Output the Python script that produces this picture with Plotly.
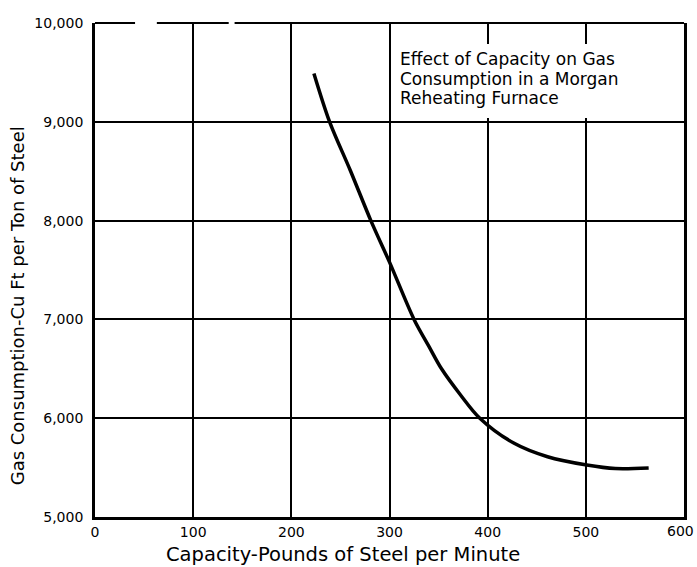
import plotly.graph_objects as go

# Capacity (lb of steel per minute) and gas consumption (cu ft per ton of steel)
capacity = [223, 239, 260, 281, 300, 325, 340, 353, 372, 392, 427, 461, 501, 530, 564]
gas_consumption = [9490, 9000, 8510, 8000, 7580, 7000, 6730, 6500, 6240, 6000, 5746, 5610, 5526, 5490, 5496]

x_ticks = [0, 100, 200, 300, 400, 500]
x_last_tick = 600
y_ticks = [5000, 6000, 7000, 8000, 9000, 10000]
y_tick_text = ["5,000", "6,000", "7,000", "8,000", "9,000", "10,000"]

title_lines = ["Effect of Capacity on Gas", "Consumption in a Morgan", "Reheating Furnace"]
title_line_y = [9636, 9438, 9241]
x_title = "Capacity-Pounds of Steel per Minute"
y_title = "Gas Consumption-Cu Ft per Ton of Steel"

FONT = "DejaVu Sans"

fig = go.Figure()
fig.add_trace(go.Scatter(
    x=capacity, y=gas_consumption, mode="lines",
    line=dict(color="black", width=3.5, shape="spline", smoothing=0.9),
    showlegend=False, hoverinfo="skip",
))

annotations = [
    dict(text=line, xref="x", yref="y", x=309, y=yv,
         xanchor="left", yanchor="middle", align="left", showarrow=False,
         font=dict(size=17, family=FONT))
    for line, yv in zip(title_lines, title_line_y)
]
annotations += [
    # right-most x tick label, kept inside the page edge
    dict(text=str(x_last_tick), xref="x", yref="paper", x=x_last_tick, y=0,
         xanchor="center", yanchor="top", yshift=-4, xshift=-4, showarrow=False,
         font=dict(size=14, family=FONT)),
    dict(text=x_title, xref="paper", yref="paper", x=0.421, y=-0.076,
         xanchor="center", yanchor="middle", showarrow=False,
         font=dict(size=19.5, family=FONT)),
    dict(text=y_title, xref="paper", yref="paper", x=-0.132, y=0.427,
         xanchor="center", yanchor="middle", textangle=-90, showarrow=False,
         font=dict(size=18, family=FONT)),
]

fig.update_layout(
    width=697, height=567,
    margin=dict(l=95, r=10, t=23, b=50),
    paper_bgcolor="white", plot_bgcolor="white",
    font=dict(family=FONT, color="black"),
    xaxis=dict(
        range=[0, 600], tickvals=x_ticks, ticks="",
        showgrid=True, gridcolor="black", gridwidth=1.6,
        showline=True, linecolor="black", linewidth=2.5, mirror=False,
        zeroline=False, tickfont=dict(size=14, family=FONT),
        ticklabelstandoff=0,
    ),
    yaxis=dict(
        range=[5000, 10000], tickvals=y_ticks, ticktext=y_tick_text, ticks="",
        showgrid=True, gridcolor="black", gridwidth=1.6,
        showline=True, linecolor="black", linewidth=2.7, mirror=True,
        zeroline=False, tickfont=dict(size=14, family=FONT),
        ticklabelstandoff=6,
    ),
    annotations=annotations,
    shapes=[
        # white panel behind the caption, hiding the grid there
        dict(type="rect", xref="x", yref="y", x0=305, x1=554, y0=9038, y1=9787,
             fillcolor="white", line=dict(width=0), layer="above"),
        # top border drawn in segments
        dict(type="line", xref="paper", yref="paper", x0=0, x1=0.068, y0=1, y1=1,
             line=dict(color="black", width=2.2)),
        dict(type="line", xref="paper", yref="paper", x0=0.105, x1=0.227, y0=1, y1=1,
             line=dict(color="black", width=2.2)),
        dict(type="line", xref="paper", yref="paper", x0=0.237, x1=1, y0=1, y1=1,
             line=dict(color="black", width=2.2)),
    ],
)

fig.write_html("out.html")
